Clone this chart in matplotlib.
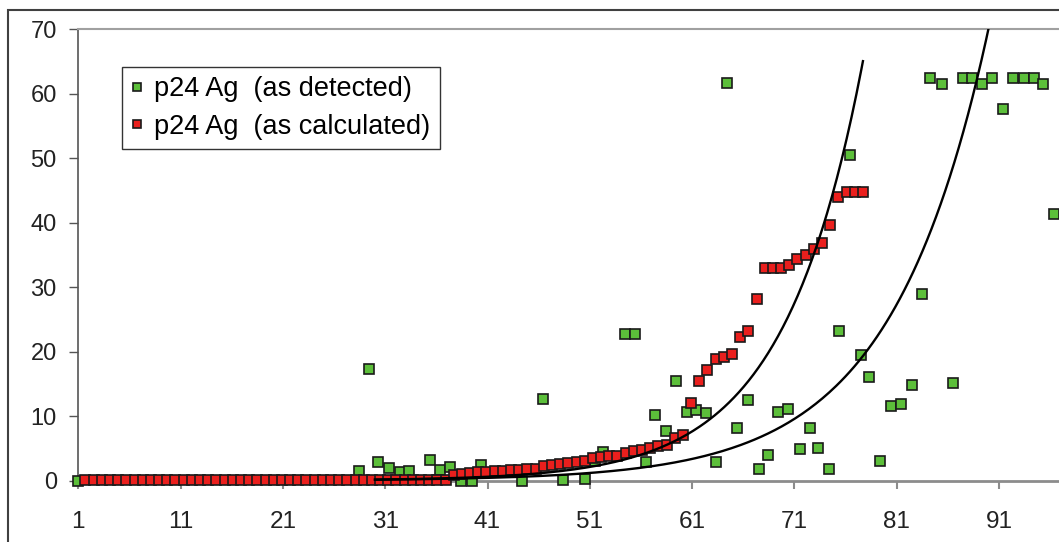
import numpy as np
import matplotlib
matplotlib.use('Agg')
import matplotlib.pyplot as plt
from matplotlib.patches import Rectangle

plt.rcParams['font.family'] = ['Liberation Sans', 'DejaVu Sans']

# p24 Ag as detected (x, y in units)
detected_x = [1.0, 28.4, 29.4, 30.3, 31.4, 32.4, 33.3, 35.4, 36.4, 37.3, 38.4, 39.5,
              40.4, 44.4, 46.4, 48.4, 50.5, 51.5, 52.3, 54.4, 55.4, 56.5, 57.4, 58.4,
              59.4, 60.5, 61.4, 62.4, 63.3, 64.4, 65.4, 66.5, 67.5, 68.4, 69.4, 70.4,
              71.5, 72.5, 73.3, 74.4, 75.4, 76.4, 77.5, 78.3, 79.4, 80.4, 81.4, 82.5,
              83.5, 84.3, 85.4, 86.5, 87.5, 88.4, 89.3, 90.3, 91.4, 92.4, 93.4, 94.4,
              95.3, 96.4]
detected_y = [0.0, 1.5, 17.3, 2.9, 2.0, 1.35, 1.5, 3.2, 1.7, 2.1, 0.0, 0.0,
              2.4, 0.0, 12.7, 0.1, 0.2, 3.0, 4.45, 22.8, 22.8, 2.9, 10.1, 7.65,
              15.5, 10.6, 11.0, 10.5, 2.85, 61.6, 8.15, 12.5, 1.85, 4.0, 10.6, 11.1,
              4.9, 8.15, 5.1, 1.85, 23.2, 50.5, 19.5, 16.1, 3.0, 11.6, 11.9, 14.8,
              29.0, 62.4, 61.5, 15.2, 62.4, 62.4, 61.5, 62.4, 57.7, 62.4, 62.4, 62.4,
              61.5, 41.3]

# p24 Ag as calculated (96 points, evenly spaced)
calculated_y = [0.15] * 45 + [
    0.85, 0.96, 1.12, 1.27, 1.37, 1.52, 1.52, 1.63, 1.68, 1.74,
    1.83, 2.2, 2.4, 2.53, 2.67, 2.8, 2.95, 3.5, 3.7, 3.8,
    3.8, 4.2, 4.5, 4.8, 5.0, 5.35, 5.55, 6.6, 7.0, 12.1,
    15.4, 17.1, 18.8, 19.2, 19.6, 22.2, 23.2, 28.2, 33.0, 33.0,
    33.0, 33.5, 34.3, 35.0, 35.9, 36.8, 39.6, 44.0, 44.8, 44.8,
    44.8]
calc_start, calc_step = 1.7, 0.8

# exponential trendlines y = a*exp(b*x)
calc_trend = (0.003, 0.1285)
detect_trend = (0.00553, 0.105)

xtick_labels = [1, 11, 21, 31, 41, 51, 61, 71, 81, 91]

fig = plt.figure(figsize=(10.59, 5.42), dpi=100)
W, H = 1059, 542
left_px, right_px, top_px, bottom_px = 78.3, 1100, 29.3, 480.5
ax = fig.add_axes([left_px / W, 1 - bottom_px / H,
                   (right_px - left_px) / W, (bottom_px - top_px) / H])

calc_x = calc_start + calc_step * np.arange(len(calculated_y))

ax.plot(detected_x, detected_y, linestyle='none', marker='s', markersize=6.8,
        markerfacecolor='#5cbf3a', markeredgecolor='#1a1a1a', markeredgewidth=1.2,
        label='p24 Ag  (as detected)', clip_on=False, zorder=3)
ax.plot(calc_x, calculated_y, linestyle='none', marker='s', markersize=6.8,
        markerfacecolor='#ea1f1d', markeredgecolor='#1a1a1a', markeredgewidth=1.2,
        label='p24 Ag  (as calculated)', clip_on=False, zorder=4)

tx1 = np.linspace(30, calc_x[-1], 300)
ax.plot(tx1, calc_trend[0] * np.exp(calc_trend[1] * tx1), color='black', lw=1.7, zorder=5)
tx2 = np.linspace(30, detected_x[-1], 300)
ax.plot(tx2, detect_trend[0] * np.exp(detect_trend[1] * tx2), color='black', lw=1.7, zorder=5)

ax.set_xlim(1, 1 + (right_px - left_px) / 10.23)
ax.set_ylim(0, 70)
ax.set_yticks(range(0, 71, 10))
ax.set_xticks(xtick_labels)
ax.set_xticklabels([str(v) for v in xtick_labels])

ax.spines['right'].set_visible(False)
ax.spines['left'].set_color('#555555')
ax.spines['left'].set_linewidth(1.2)
ax.spines['bottom'].set_color('#8c8c8c')
ax.spines['bottom'].set_linewidth(2)
ax.spines['top'].set_color('#a0a0a0')
ax.spines['top'].set_linewidth(1.5)

ax.tick_params(axis='y', direction='out', length=6.5, width=1, color='#555555',
               pad=9, labelsize=17, labelcolor='#222222')
ax.tick_params(axis='x', direction='out', length=6, width=1.5, color='#8c8c8c',
               pad=16, labelsize=17.5, labelcolor='#222222')

leg = ax.legend(loc='upper left', bbox_to_anchor=(121.7 / W, 1 - 66.7 / H),
                bbox_transform=fig.transFigure, borderaxespad=0, fontsize=19.5,
                handlelength=0.45, handletextpad=0.4, borderpad=0.35,
                labelspacing=0.42, fancybox=False, framealpha=1, markerscale=0.8)
leg.get_frame().set_edgecolor('#333333')
leg.get_frame().set_linewidth(1.0)

# outer chart frame (right and bottom fall outside the picture)
fig.patches.append(Rectangle((8 / W, -0.05), 1.1, 1 - 10 / H + 0.05,
                             transform=fig.transFigure, fill=False,
                             edgecolor='#404040', linewidth=1.5))

plt.savefig('out.png', dpi=100)
